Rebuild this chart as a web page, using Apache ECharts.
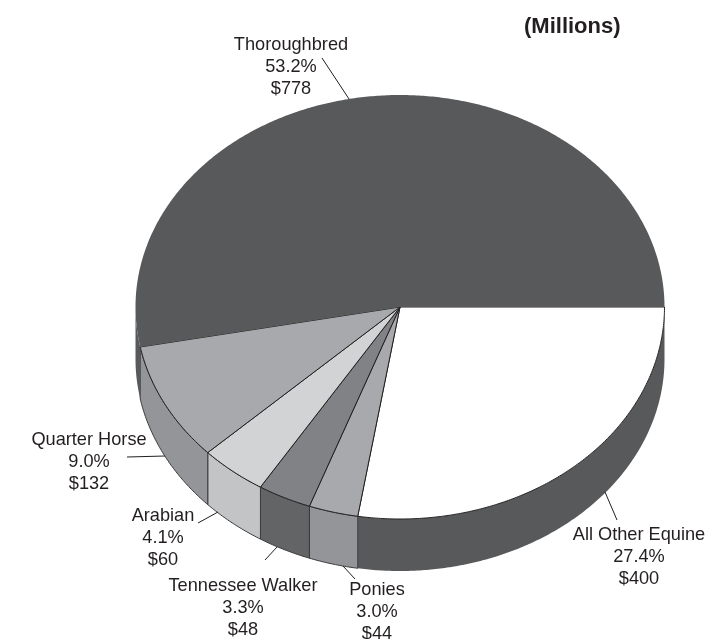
<!DOCTYPE html>
<html><head><meta charset="utf-8">
<style>html,body{margin:0;padding:0;background:#fff}#c{width:709px;height:639px}</style>
<script src="https://cdn.jsdelivr.net/npm/echarts@6/dist/echarts.min.js"></script>
</head><body><div id="c"></div>
<script>
// Data, clockwise from 3 o'clock
const categories = ['All Other Equine', 'Ponies', 'Tennessee Walker', 'Arabian', 'Quarter Horse', 'Thoroughbred'];
const percents = ['27.4%', '3.0%', '3.3%', '4.1%', '9.0%', '53.2%'];
const values = [400, 44, 48, 60, 132, 778];
const unitNote = '(Millions)';

// Styles and placement
const topColors = ['#ffffff', '#a7a9ac', '#808285', '#d1d3d4', '#a7a9ac', '#58595b'];
const wallColors = ['#58595b', '#939598', '#636466', '#c2c4c6', '#939598', '#58595b'];
const labelAnchors = [[639, 535], [377, 590], [243, 586], [163, 516], [89, 440], [291, 45]];
const leaders = [
  [[617, 520], [605, 492]], [[355, 579], [343, 566]], [[265, 560], [277, 547]],
  [[198, 523], [218, 512]], [[127, 457], [165, 456]], [[322, 58], [349, 99]]
];
const CX = 400, CY = 307, RX = 264.5, RY = 212, DEPTH = 52, LINE = 22.2, SEAM_SHIFT = 0.7;
const INK = '#231f20';
const total = values.reduce((a, b) => a + b, 0);

function pt(deg, dy) {
  const a = deg * Math.PI / 180;
  return [CX + RX * Math.cos(a), CY + RY * Math.sin(a) + (dy || 0)];
}
function arc(a0, a1, dy) {
  const n = Math.max(2, Math.ceil(Math.abs(a1 - a0) * 2)), out = [];
  for (let i = 0; i <= n; i++) out.push(pt(a0 + (a1 - a0) * i / n, dy));
  return out;
}
function seam(cum) {
  return cum <= 0 || cum >= total ? cum / total * 360 : cum / total * 360 + SEAM_SHIFT;
}
function renderItem(params, api) {
  const i = params.dataIndex;
  let before = 0;
  for (let k = 0; k < i; k++) before += values[k];
  const a0 = seam(before), a1 = seam(before + api.value(0));
  const big = i === 0 || i === 5;
  const children = [];
  // visible side wall: only the part of the slice in the front half
  const w0 = Math.min(a0, 180), w1 = Math.min(a1, 180);
  if (w1 > w0) {
    children.push({
      type: 'polygon',
      shape: { points: arc(w0, w1, 0).concat(arc(w1, w0, DEPTH)) },
      style: big ? { fill: wallColors[i] } : { fill: wallColors[i], stroke: '#3a3a3c', lineWidth: 1 }
    });
  }
  // top face
  children.push({
    type: 'polygon',
    shape: { points: [[CX, CY]].concat(arc(a0, a1, 0)) },
    style: i === 5 ? { fill: topColors[i] } : { fill: topColors[i], stroke: INK, lineWidth: 1, lineJoin: 'round' }
  });
  // leader line
  children.push({
    type: 'line',
    shape: { x1: leaders[i][0][0], y1: leaders[i][0][1], x2: leaders[i][1][0], y2: leaders[i][1][1] },
    style: { stroke: INK, lineWidth: 1 }
  });
  // label, three lines
  [categories[i], percents[i], '$' + api.value(0)].forEach((t, j) => {
    children.push({
      type: 'text',
      style: {
        x: labelAnchors[i][0], y: labelAnchors[i][1] + j * LINE, text: t,
        align: 'center', verticalAlign: 'middle',
        font: '18.2px "Liberation Sans", Arial, sans-serif', fill: INK
      }
    });
  });
  return { type: 'group', children };
}
const chart = echarts.init(document.getElementById('c'), null, { renderer: 'canvas' });
chart.setOption({
  animation: false,
  backgroundColor: '#fff',
  graphic: [{
    type: 'text', left: 524, top: 16,
    style: { text: unitNote, font: 'bold 22px "Liberation Sans", Arial, sans-serif', fill: INK }
  }],
  series: [{
    type: 'custom',
    coordinateSystem: 'none',
    renderItem,
    silent: true,
    data: values.map(v => [v])
  }]
});
</script></body></html>
